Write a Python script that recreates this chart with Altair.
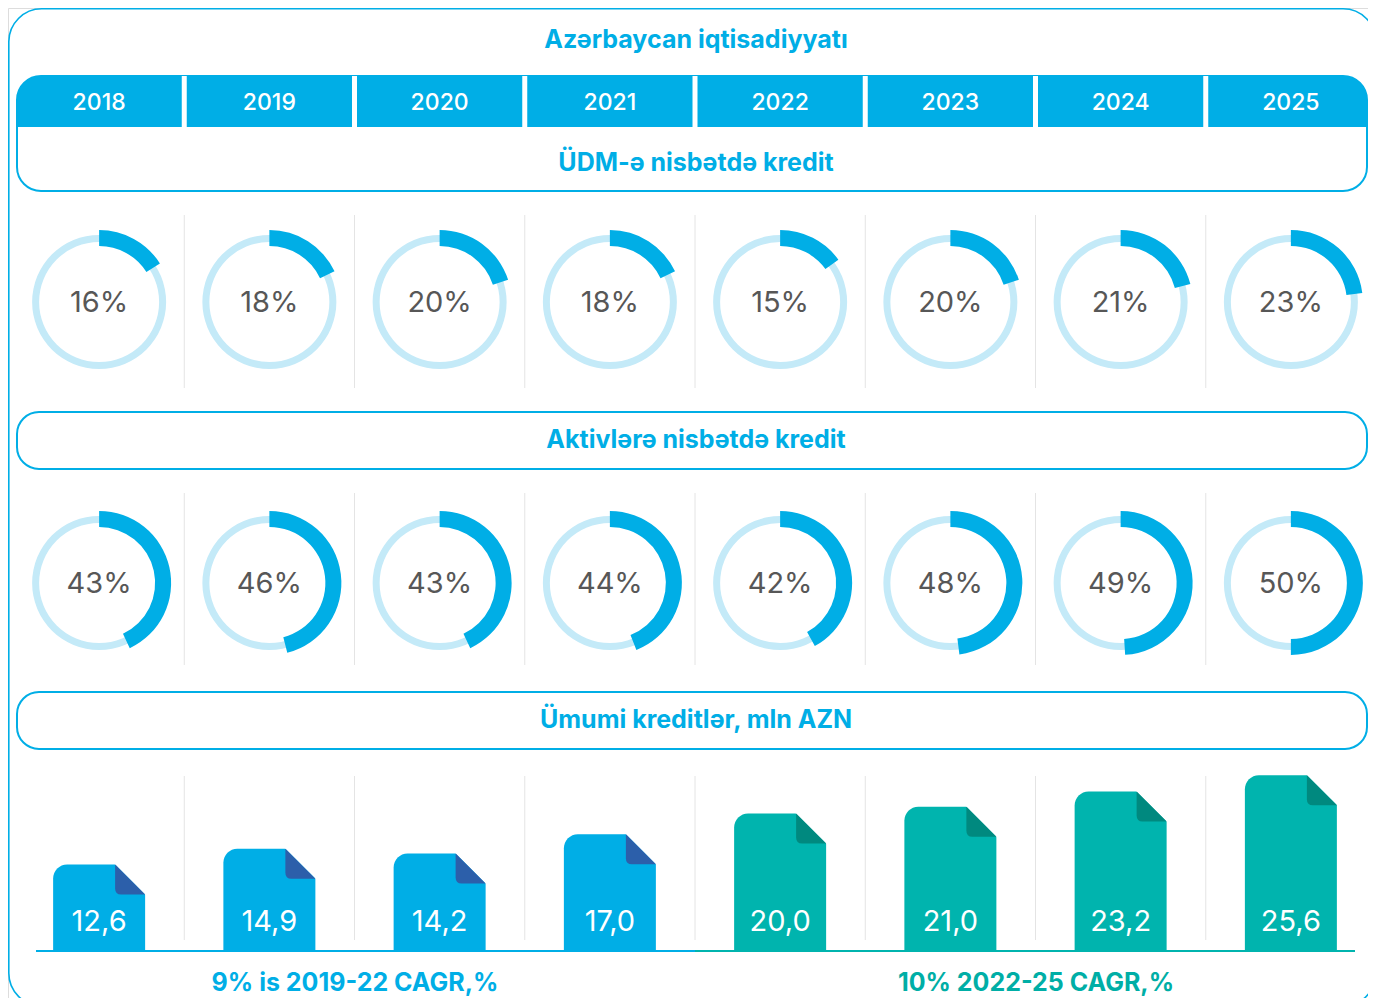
import math
import altair as alt
import pandas as pd

# ---------------- data ----------------
YEARS = ["2018", "2019", "2020", "2021", "2022", "2023", "2024", "2025"]
GDP_PCT = [16, 18, 20, 18, 15, 20, 21, 23]          # ÜDM-ə nisbətdə kredit, %
ASSET_PCT = [43, 46, 43, 44, 42, 48, 49, 50]        # Aktivlərə nisbətdə kredit, %
LOANS = [12.6, 14.9, 14.2, 17.0, 20.0, 21.0, 23.2, 25.6]  # Ümumi kreditlər, mln AZN
PHASE = ["fakt", "fakt", "fakt", "fakt", "proqnoz", "proqnoz", "proqnoz", "proqnoz"]

TITLE = "Azərbaycan iqtisadiyyatı"
SECTION_TITLES = ["ÜDM-ə nisbətdə kredit", "Aktivlərə nisbətdə kredit", "Ümumi kreditlər, mln AZN"]
CAGR_LABELS = ["9% is 2019-22 CAGR,%", "10% 2022-25 CAGR,%"]

# ---------------- style ----------------
BLUE = "#00AEE6"
LIGHT = "#C4EAF8"
DARKBLUE = "#2C5FAA"
TEAL = "#00B4AE"
DARKTEAL = "#00897F"
TEALTEXT = "#00AEA6"
GRAY = "#575757"
SEP = "#E4E4E4"
FONT = "Inter, 'Open Sans', sans-serif"

W, H = 1360, 990
X0, X1 = 6, 1368
BAND = (X1 - X0) / len(YEARS)
BASE_Y = 943
PX_PER_UNIT = 6.87
BOX_L, BOX_R = 9, 1359

df = pd.DataFrame({"year": YEARS, "gdp": GDP_PCT, "asset": ASSET_PCT,
                   "loan": LOANS, "phase": PHASE})
base = alt.Chart(df)
one = alt.Chart(pd.DataFrame({"k": [0]}))

XS = alt.Scale(domain=YEARS, range=[X0, X1], paddingInner=0, paddingOuter=0)
X = alt.X("year:N", scale=XS, axis=None)
YL = alt.Y("loan:Q", axis=None,
           scale=alt.Scale(domain=[0, 30], range=[BASE_Y, BASE_Y - PX_PER_UNIT * 30]))


def heading(text, y, x=688, color=BLUE):
    return one.mark_text(text=text, font=FONT, fontSize=25, fontWeight="bold",
                         color=color, baseline="middle").encode(
        x=alt.value(x), y=alt.value(y))


layers = []

# outer frame (runs off the page on the right and bottom, as in the original)
layers.append(one.mark_rect(cornerRadius=33, fill="white", fillOpacity=0, clip=True,
                            stroke=BLUE, strokeWidth=1.6).encode(
    x=alt.value(0.8), x2=alt.value(1368), y=alt.value(0.8), y2=alt.value(998)))

# title
layers.append(heading(TITLE, 32))

# header box
layers.append(one.mark_rect(cornerRadius=24, fill="white", stroke=BLUE, strokeWidth=2).encode(
    x=alt.value(BOX_L), x2=alt.value(BOX_R), y=alt.value(68), y2=alt.value(183)))
layers.append(one.mark_rect(cornerRadiusTopLeft=24, cornerRadiusTopRight=24, color=BLUE).encode(
    x=alt.value(BOX_L), x2=alt.value(BOX_R), y=alt.value(68), y2=alt.value(119)))
layers.append(base.transform_filter(alt.datum.year != YEARS[0]).mark_rule(
    color="white", strokeWidth=5, xOffset=-BAND / 2).encode(
    x=X, y=alt.value(68), y2=alt.value(119)))
layers.append(base.mark_text(font=FONT, fontSize=23, fontWeight=500, color="white",
                             baseline="middle").encode(
    x=X, y=alt.value(95), text="year:N"))
layers.append(heading(SECTION_TITLES[0], 155))


def donut_row(field, cy, sep_top, sep_bot):
    out = []
    out.append(base.transform_filter(alt.datum.year != YEARS[0]).mark_rule(
        color=SEP, strokeWidth=1, xOffset=-BAND / 2).encode(
        x=X, y=alt.value(sep_top), y2=alt.value(sep_bot)))
    out.append(base.mark_arc(innerRadius=60, outerRadius=67, color=LIGHT,
                             theta=0, theta2=2 * math.pi).encode(x=X, y=alt.value(cy)))
    out.append(base.transform_calculate(
        t0="0", t1=f"datum.{field} / 100 * 2 * PI").mark_arc(
        innerRadius=56, outerRadius=72, color=BLUE).encode(
        x=X, y=alt.value(cy),
        theta=alt.Theta("t0:Q", scale=None), theta2=alt.Theta2("t1:Q")))
    out.append(base.transform_calculate(
        lab=f"format(datum.{field}, 'd') + '%'").mark_text(
        font=FONT, fontSize=29, fontWeight=400, color=GRAY, baseline="middle").encode(
        x=X, y=alt.value(cy + 1), text="lab:N"))
    return out


layers += donut_row("gdp", 294, 207, 380)

# section 2
layers.append(one.mark_rect(cornerRadius=22, fill="white", stroke=BLUE, strokeWidth=2).encode(
    x=alt.value(BOX_L), x2=alt.value(BOX_R), y=alt.value(404), y2=alt.value(461)))
layers.append(heading(SECTION_TITLES[1], 432))
layers += donut_row("asset", 575, 485, 657)

# section 3
layers.append(one.mark_rect(cornerRadius=22, fill="white", stroke=BLUE, strokeWidth=2).encode(
    x=alt.value(BOX_L), x2=alt.value(BOX_R), y=alt.value(684), y2=alt.value(741)))
layers.append(heading(SECTION_TITLES[2], 712))
layers.append(base.transform_filter(alt.datum.year != YEARS[0]).mark_rule(
    color=SEP, strokeWidth=1, xOffset=-BAND / 2).encode(
    x=X, y=alt.value(768), y2=alt.value(932)))

is_fact = "datum.phase == 'fakt'"
layers.append(base.mark_bar(width=92, cornerRadiusTopLeft=14).encode(
    x=X, y=YL, y2=alt.datum(0),
    color=alt.condition(is_fact, alt.value(BLUE), alt.value(TEAL))))
# cut corner (white) and fold (dark)
layers.append(base.mark_point(shape="M -1.08 -1.08 L 1.08 -1.08 L 1.08 1.08 Z", size=900,
                              filled=True, opacity=1, color="white", xOffset=31, yOffset=15).encode(
    x=X, y=YL))
layers.append(base.mark_point(shape="M -1 -1 L 1 1 L -0.6 1 Q -1 1 -1 0.6 Z", size=900,
                              filled=True, opacity=1, xOffset=31, yOffset=15).encode(
    x=X, y=YL,
    color=alt.condition(is_fact, alt.value(DARKBLUE), alt.value(DARKTEAL))))

# baseline
layers.append(one.mark_rule(color=BLUE, strokeWidth=2).encode(
    x=alt.value(28), x2=alt.value(X0 + 4 * BAND), y=alt.value(BASE_Y)))
layers.append(one.mark_rule(color=TEAL, strokeWidth=2).encode(
    x=alt.value(X0 + 4 * BAND), x2=alt.value(1347), y=alt.value(BASE_Y)))

layers.append(base.transform_calculate(
    lab="replace(format(datum.loan, '.1f'), '.', ',')").mark_text(
    font=FONT, fontSize=29, fontWeight=400, color="white", baseline="middle").encode(
    x=X, y=alt.value(914), text="lab:N"))

layers.append(heading(CAGR_LABELS[0], 975, x=347))
layers.append(heading(CAGR_LABELS[1], 975, x=1028, color=TEALTEXT))

chart = alt.layer(*layers).properties(width=W, height=H, padding=0).configure_view(
    stroke=None).configure(background="white")

chart.save("out.html", embed_options={"renderer": "svg", "actions": False})
